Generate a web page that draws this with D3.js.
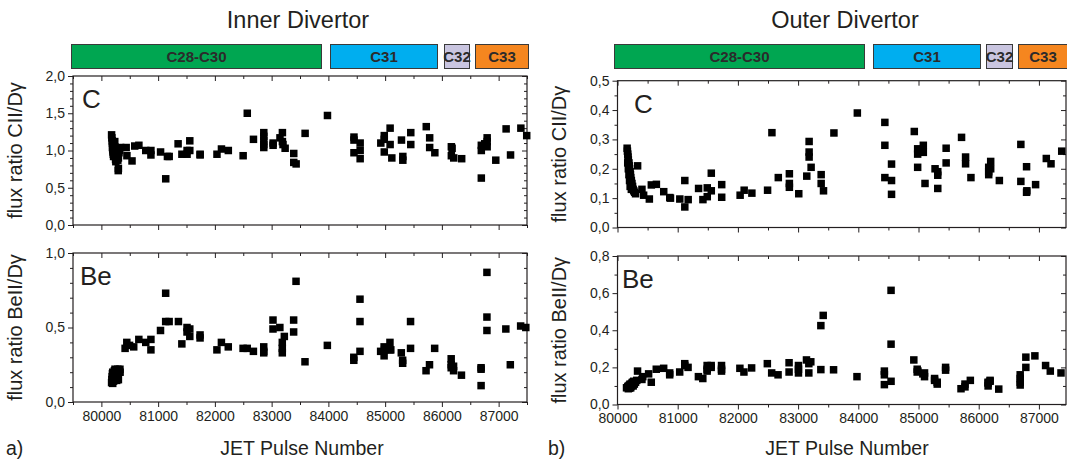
<!DOCTYPE html>
<html><head><meta charset="utf-8">
<script src="https://cdn.jsdelivr.net/npm/d3@7"></script>
<style>
body{margin:0;background:#fff;}
text{font-family:"Liberation Sans",Arial,sans-serif;fill:#231f20;}
</style></head><body>
<svg id="c" width="1067" height="466"></svg>
<script>
// ---------- DATA ----------
const panelTitles = ["Inner Divertor", "Outer Divertor"];
const campaigns = ["C28-C30", "C31", "C32", "C33"];
const campaignColors = ["#00a651", "#00aeef", "#c9c5e0", "#f5861f"];
const xTicksMajor = [80000, 81000, 82000, 83000, 84000, 85000, 86000, 87000];

const innerC = [[80180,1.21],[80185,1.17],[80190,1.13],[80195,1.10],[80200,1.07],[80195,1.04],[80200,1.01],[80205,0.98],[80210,0.95],[80215,0.92],[80236,1.12],[80236,1.05],[80240,0.98],[80245,0.92],[80250,0.88],[80255,0.85],[80225,1.0],[80265,0.95],[80275,0.88],[80297,0.73],[80300,0.76],[80290,0.87],[80300,0.9],[80310,0.97],[80320,1.0],
[80340,1.04],[80437,1.04],[80450,0.93],[80540,0.86],[80588,1.06],[80661,1.07],[80782,1.00],[80873,0.94],[80873,1.00],[81043,0.98],[81134,0.62],[81164,0.92],[81195,0.92],[81352,1.09],[81419,0.95],[81510,0.95],[81510,1.00],[81558,1.13],[81558,1.00],[81740,0.94],[81740,0.95],[82037,0.95],[82116,1.02],[82237,1.00],[82498,0.93],[82571,1.50],[82680,1.15],[82862,1.24],[82862,1.19],[82862,1.13],[82862,1.08],[82862,1.04],[83026,1.07],[83026,1.10],[83147,1.17],[83190,1.24],[83190,1.12],[83200,1.08],[83238,1.03],[83390,0.96],[83390,0.84],[83432,0.82],[83590,1.23],[83984,1.47],[84451,1.18],[84451,1.14],[84451,0.97],[84560,1.10],[84560,1.00],[84560,0.89],[84924,1.10],[84985,1.20],[84985,1.15],[84985,0.98],[85088,1.30],[85088,1.08],[85118,0.90],[85288,1.14],[85312,0.92],[85312,0.87],[85452,1.24],[85452,1.08],[85725,1.32],[85785,1.17],[85785,1.04],[85876,0.97],[86167,1.05],[86167,0.93],[86180,1.03],[86209,0.90],[86349,0.89],[86695,0.63],[86695,1.00],[86695,1.07],[86755,1.09],[86798,1.17],[86798,1.05],[86798,1.12],[86950,0.87],[87132,1.29],[87210,0.94],[87392,1.30],[87495,1.20]];

const innerBe = [[80180,0.13],[80185,0.15],[80190,0.17],[80195,0.19],[80200,0.20],[80200,0.125],[80215,0.14],[80220,0.18],[80230,0.21],[80240,0.22],[80250,0.16],[80260,0.19],[80270,0.145],[80280,0.2],[80300,0.15],[80310,0.2],[80327,0.22],[80330,0.2],[80290,0.22],[80210,0.16],
[80418,0.36],[80448,0.40],[80497,0.38],[80570,0.37],[80660,0.42],[80782,0.40],[80873,0.35],[80873,0.42],[81042,0.48],[81133,0.73],[81133,0.54],[81194,0.54],[81358,0.54],[81418,0.39],[81509,0.50],[81509,0.47],[81558,0.49],[81558,0.44],[81739,0.45],[81739,0.43],[82036,0.35],[82115,0.40],[82236,0.37],[82497,0.36],[82570,0.36],[82679,0.34],[82861,0.37],[82861,0.34],[82861,0.33],[83024,0.55],[83024,0.49],[83145,0.50],[83188,0.40],[83188,0.36],[83188,0.33],[83224,0.44],[83388,0.55],[83388,0.47],[83430,0.81],[83588,0.27],[83982,0.38],[84448,0.30],[84448,0.28],[84557,0.69],[84557,0.54],[84557,0.34],[84921,0.34],[84982,0.37],[84982,0.31],[84990,0.35],[85085,0.35],[85085,0.40],[85100,0.35],[85285,0.33],[85309,0.28],[85309,0.26],[85448,0.54],[85448,0.36],[85721,0.21],[85782,0.25],[85873,0.36],[86164,0.29],[86164,0.25],[86164,0.23],[86206,0.21],[86206,0.24],[86345,0.18],[86691,0.11],[86691,0.22],[86691,0.23],[86794,0.87],[86794,0.57],[86794,0.48],[87127,0.49],[87206,0.25],[87388,0.51],[87479,0.50]];

const outerC = [[80160,0.27],[80165,0.26],[80170,0.25],[80175,0.24],[80180,0.23],[80190,0.22],[80195,0.21],[80200,0.20],[80210,0.19],[80215,0.18],[80220,0.17],[80230,0.16],[80240,0.15],[80250,0.14],[80260,0.13],[80270,0.125],[80285,0.12],[80300,0.115],[80170,0.22],[80180,0.20],[80190,0.18],[80200,0.16],[80210,0.14],[80230,0.13],
[80334,0.21],[80406,0.13],[80434,0.11],[80529,0.097],[80562,0.145],[80646,0.147],[80768,0.122],[80868,0.102],[80880,0.10],[81035,0.097],[81118,0.07],[81118,0.16],[81174,0.095],[81347,0.133],[81419,0.095],[81491,0.105],[81491,0.135],[81558,0.185],[81558,0.125],[81731,0.146],[81731,0.103],[82037,0.11],[82104,0.127],[82232,0.117],[82493,0.127],[82565,0.323],[82671,0.17],[82855,0.183],[82855,0.15],[82855,0.137],[83011,0.115],[83144,0.175],[83183,0.293],[83183,0.257],[83183,0.24],[83216,0.205],[83383,0.18],[83383,0.15],[83422,0.125],[83595,0.322],[83984,0.39],[84441,0.358],[84441,0.28],[84441,0.17],[84552,0.216],[84552,0.16],[84552,0.113],[84930,0.327],[84986,0.268],[84986,0.25],[84986,0.205],[85080,0.28],[85080,0.256],[85108,0.15],[85275,0.2],[85320,0.19],[85320,0.178],[85320,0.133],[85459,0.27],[85459,0.22],[85715,0.307],[85782,0.24],[85782,0.217],[85871,0.17],[86166,0.205],[86166,0.19],[86166,0.18],[86199,0.225],[86199,0.2],[86343,0.16],[86700,0.283],[86700,0.157],[86795,0.207],[86795,0.12],[86800,0.125],[86945,0.146],[87123,0.235],[87201,0.217],[87379,0.26]];

const outerBe = [[80150,0.09],[80170,0.095],[80180,0.10],[80200,0.105],[80210,0.11],[80220,0.09],[80230,0.10],[80240,0.115],[80250,0.12],[80260,0.10],[80270,0.125],[80280,0.11],[80300,0.12],[80320,0.13],[80180,0.085],[80200,0.088],
[80333,0.18],[80406,0.135],[80420,0.15],[80517,0.165],[80561,0.12],[80644,0.19],[80767,0.195],[80867,0.17],[80867,0.16],[81033,0.175],[81117,0.22],[81117,0.21],[81172,0.20],[81344,0.15],[81417,0.14],[81489,0.21],[81489,0.19],[81489,0.18],[81556,0.21],[81556,0.20],[81728,0.21],[81728,0.19],[81728,0.18],[82033,0.195],[82100,0.175],[82228,0.197],[82489,0.22],[82561,0.17],[82667,0.16],[82850,0.225],[82850,0.175],[83006,0.21],[83006,0.19],[83006,0.17],[83139,0.24],[83178,0.22],[83178,0.17],[83211,0.23],[83378,0.425],[83378,0.188],[83417,0.48],[83589,0.187],[83978,0.15],[84433,0.18],[84433,0.16],[84433,0.107],[84544,0.615],[84544,0.325],[84544,0.125],[84922,0.24],[84978,0.19],[84978,0.175],[84990,0.18],[85072,0.165],[85100,0.15],[85100,0.17],[85267,0.14],[85267,0.13],[85311,0.12],[85311,0.11],[85450,0.20],[85450,0.185],[85706,0.085],[85772,0.095],[85772,0.11],[85861,0.13],[86156,0.10],[86156,0.12],[86156,0.115],[86189,0.125],[86189,0.13],[86333,0.083],[86689,0.16],[86689,0.14],[86689,0.12],[86689,0.105],[86783,0.255],[86783,0.20],[86933,0.262],[87111,0.21],[87189,0.18],[87367,0.17]];

// ---------- LAYOUT ----------
const svg = d3.select("#c");
const fmt = v => d3.format(".1f")(v).replace(".", ",");
const range = (a, b, s) => d3.range(Math.round((b - a) / s) + 1).map(i => +(a + i * s).toFixed(4));

const columns = [
  {title: panelTitles[0], titleX: 298, xDomain: [79500, 87500], xRange: [73, 527], yTitleX: 22, tag: "a)", tagX: 6, xTitleX: 302,
   bars: [[71, 321], [330, 437], [444, 469], [475, 528]],
   plots: [
     {data: innerC, yDomain: [0, 2], yRange: [225, 76], major: 0.5, minor: 0.1, label: "C", labelX: 82, ytitle: "flux ratio CII/D\u03b3"},
     {data: innerBe, yDomain: [0, 1], yRange: [402, 253], major: 0.5, minor: 0.1, label: "Be", labelX: 80, ytitle: "flux ratio BeII/D\u03b3", showX: true}
   ]},
  {title: panelTitles[1], titleX: 845, xDomain: [80000, 87450], xRange: [617.5, 1066], yTitleX: 566, tag: "b)", tagX: 548, xTitleX: 847,
   bars: [[614, 864], [873, 980], [986, 1012], [1018, 1072]],
   plots: [
     {data: outerC, yDomain: [0, 0.5], yRange: [227.5, 80.7], major: 0.1, minor: 0.05, label: "C", labelX: 634, ytitle: "flux ratio CII/D\u03b3"},
     {data: outerBe, yDomain: [0, 0.8], yRange: [404.5, 256], major: 0.2, minor: 0.1, label: "Be", labelX: 622, ytitle: "flux ratio BeII/D\u03b3", showX: true}
   ]}
];

columns.forEach(col => {
  const x = d3.scaleLinear().domain(col.xDomain).range(col.xRange);
  svg.append("text").attr("x", col.titleX).attr("y", 28).attr("text-anchor", "middle")
    .style("font-size", "23.5px").text(col.title);

  // campaign bars
  const bg = svg.append("g");
  col.bars.forEach((b, i) => {
    bg.append("rect").attr("x", b[0] + 0.5).attr("y", 44.5).attr("width", b[1] - b[0]).attr("height", 24)
      .attr("fill", campaignColors[i]).attr("stroke", "#3a3a3a").attr("stroke-width", 1);
    bg.append("text").attr("x", (b[0] + Math.min(b[1], 1067)) / 2 + 0.5).attr("y", 62).attr("text-anchor", "middle")
      .style("font-size", "15px").style("font-weight", "bold").style("fill", "#2b2b2b").text(campaigns[i]);
  });

  const xMinor = range(Math.ceil(col.xDomain[0] / 500) * 500, col.xDomain[1], 500).filter(v => xTicksMajor.indexOf(v) < 0);

  col.plots.forEach(p => {
    const y = d3.scaleLinear().domain(p.yDomain).range(p.yRange);
    const [x0, x1] = col.xRange, [yb, yt] = p.yRange;
    const g = svg.append("g");
    const yMaj = range(p.yDomain[0], p.yDomain[1], p.major);
    const yMin = range(p.yDomain[0], p.yDomain[1], p.minor).filter(v => !yMaj.some(m => Math.abs(m - v) < 1e-6));

    const style = sel => { sel.select(".domain").remove(); sel.selectAll("line").attr("stroke", "#231f20"); sel.selectAll("text").style("font-size", "14px").style("fill", "#231f20").style("font-family", "Liberation Sans, Arial, sans-serif"); };

    // left axis
    g.append("g").attr("transform", `translate(${x0},0)`).call(d3.axisLeft(y).tickValues(yMaj).tickFormat(fmt).tickSize(5).tickPadding(3)).call(style);
    g.append("g").attr("transform", `translate(${x0},0)`).call(d3.axisLeft(y).tickValues(yMin).tickFormat("").tickSize(3)).call(style);
    // right axis (inward)
    g.append("g").attr("transform", `translate(${x1},0)`).call(d3.axisLeft(y).tickValues(yMaj).tickFormat("").tickSize(5)).call(style);
    g.append("g").attr("transform", `translate(${x1},0)`).call(d3.axisLeft(y).tickValues(yMin).tickFormat("").tickSize(3)).call(style);
    // top axis (inward)
    g.append("g").attr("transform", `translate(0,${yt})`).call(d3.axisBottom(x).tickValues(xTicksMajor).tickFormat("").tickSize(5)).call(style);
    g.append("g").attr("transform", `translate(0,${yt})`).call(d3.axisBottom(x).tickValues(xMinor).tickFormat("").tickSize(3)).call(style);
    // bottom axis (outward)
    g.append("g").attr("transform", `translate(0,${yb})`).call(d3.axisBottom(x).tickValues(xTicksMajor).tickFormat(p.showX ? d3.format("d") : "").tickSize(5).tickPadding(4)).call(style);
    g.append("g").attr("transform", `translate(0,${yb})`).call(d3.axisBottom(x).tickValues(xMinor).tickFormat("").tickSize(3)).call(style);

    // frame
    g.append("rect").attr("x", x0).attr("y", yt).attr("width", x1 - x0).attr("height", yb - yt)
      .attr("fill", "none").attr("stroke", "#231f20").attr("stroke-width", 1.2);

    // markers
    const s = 7.5;
    g.append("g").selectAll("rect").data(p.data).join("rect")
      .attr("x", d => x(d[0]) - s / 2).attr("y", d => y(d[1]) - s / 2)
      .attr("width", s).attr("height", s).attr("fill", "#000");

    // panel label
    g.append("text").attr("x", p.labelX).attr("y", yt + 32).style("font-size", "26px").text(p.label);

    // y title
    g.append("text").attr("transform", `translate(${col.yTitleX},${(yt + yb) / 2}) rotate(-90)`)
      .attr("text-anchor", "middle").style("font-size", "20px").text(p.ytitle);

    if (p.showX) {
      svg.append("text").attr("x", col.xTitleX).attr("y", 455).attr("text-anchor", "middle")
        .style("font-size", "19.5px").text("JET Pulse Number");
      svg.append("text").attr("x", col.tagX).attr("y", 455).style("font-size", "19.5px").text(col.tag);
    }
  });
});
</script></body></html>
